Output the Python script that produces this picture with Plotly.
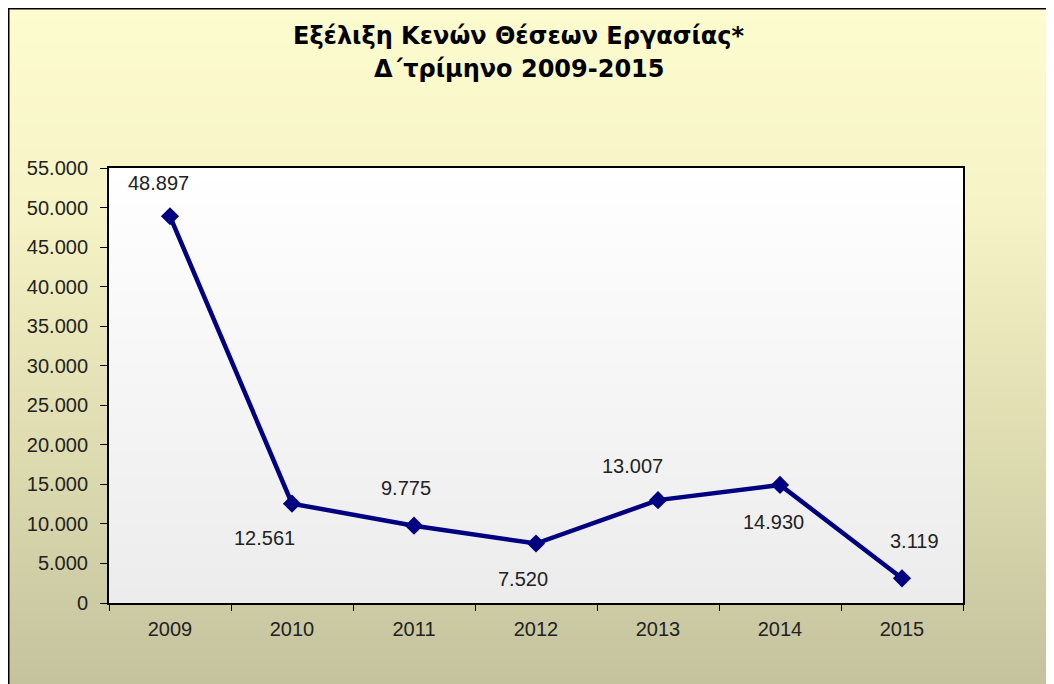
import base64, struct, zlib
import plotly.graph_objects as go

# ---- data ----
years = ["2009", "2010", "2011", "2012", "2013", "2014", "2015"]
vacancies = [48897, 12561, 9775, 7520, 13007, 14930, 3119]
value_labels = ["48.897", "12.561", "9.775", "7.520", "13.007", "14.930", "3.119"]
y_tick_values = [0, 5000, 10000, 15000, 20000, 25000, 30000, 35000, 40000, 45000, 50000, 55000]
y_tick_labels = ["0", "5.000", "10.000", "15.000", "20.000", "25.000", "30.000",
                 "35.000", "40.000", "45.000", "50.000", "55.000"]
title_line1 = "Εξέλιξη Κενών Θέσεων Εργασίας*"
title_line2 = "Δ΄τρίμηνο 2009-2015"

# label offsets (px) relative to each marker: (dx, dy up)
label_offsets = [(-12, 33), (-28, -34), (-8, 38), (-13, -35), (-26, 34), (-7, -37), (12, 37)]

# ---- helpers ----
def gradient_png(stops, n=256):
    rows = b""
    for i in range(n):
        t = i / (n - 1)
        c = stops[-1][1]
        for j in range(len(stops) - 1):
            t0, c0 = stops[j]
            t1, c1 = stops[j + 1]
            if t0 <= t <= t1:
                f = (t - t0) / (t1 - t0) if t1 > t0 else 0
                c = [round(c0[k] + (c1[k] - c0[k]) * f) for k in range(3)]
                break
        rows += b"\x00" + bytes(c)
    def chunk(tag, data):
        return struct.pack(">I", len(data)) + tag + data + struct.pack(">I", zlib.crc32(tag + data) & 0xffffffff)
    png = b"\x89PNG\r\n\x1a\n"
    png += chunk(b"IHDR", struct.pack(">IIBBBBB", 1, n, 8, 2, 0, 0, 0))
    png += chunk(b"IDAT", zlib.compress(rows))
    png += chunk(b"IEND", b"")
    return "data:image/png;base64," + base64.b64encode(png).decode()

W, H = 1046, 676
L, R, T, B = 101, 955, 160, 595
pw, ph = R - L, B - T

def px_x(x):
    return (x - L) / pw

def px_y(y):
    return (B - y) / ph

outer_grad = gradient_png([(0.0, (253, 252, 206)), (0.3, (246, 244, 198)),
                           (0.65, (222, 220, 176)), (1.0, (196, 195, 158))])
plot_grad = gradient_png([(0.0, (255, 255, 255)), (1.0, (236, 236, 236))])

FONT = "Liberation Sans, Arial, sans-serif"
TFONT = "DejaVu Sans, Verdana, sans-serif"

fig = go.Figure()
fig.add_trace(go.Scatter(
    x=years, y=vacancies, mode="lines+markers",
    line=dict(color="#000080", width=4.5),
    marker=dict(symbol="diamond", size=14, color="#000080"),
    hoverinfo="skip", showlegend=False,
))

annotations = []
for i, (v, lab, (dx, dy)) in enumerate(zip(vacancies, value_labels, label_offsets)):
    annotations.append(dict(x=i, y=v, xref="x", yref="y", text=lab, showarrow=False,
                            xshift=dx, yshift=dy,
                            font=dict(family=FONT, size=20, color="#222222")))
annotations.append(dict(x=px_x(511), y=px_y(28), xref="paper", yref="paper",
                        text="<b>" + title_line1 + "</b>", showarrow=False,
                        xanchor="center", yanchor="middle",
                        font=dict(family=TFONT, size=24, color="#000000")))
annotations.append(dict(x=px_x(511), y=px_y(61), xref="paper", yref="paper",
                        text="<b>" + title_line2 + "</b>", showarrow=False,
                        xanchor="center", yanchor="middle",
                        font=dict(family=TFONT, size=24, color="#000000")))

fig.update_layout(
    width=W, height=H,
    margin=dict(l=L, r=W - R, t=T, b=H - B, pad=0),
    paper_bgcolor="#ffffff",
    plot_bgcolor="rgba(0,0,0,0)",
    annotations=annotations,
    images=[
        dict(source=outer_grad, xref="paper", yref="paper",
             x=px_x(0), y=px_y(0), sizex=W / pw, sizey=H / ph,
             xanchor="left", yanchor="top", sizing="stretch", layer="below"),
        dict(source=plot_grad, xref="paper", yref="paper",
             x=0, y=1, sizex=1, sizey=1,
             xanchor="left", yanchor="top", sizing="stretch", layer="below"),
    ],
    shapes=[
        dict(type="rect", xref="paper", yref="paper",
             x0=px_x(0.75), x1=px_x(W + 10), y0=px_y(H + 10), y1=px_y(0.75),
             line=dict(color="#000000", width=1.5), layer="above"),
    ],
    font=dict(family=FONT, size=20, color="#222222"),
)

fig.update_xaxes(
    type="category", range=[-0.5, 6.5], autorange=False,
    showgrid=False, zeroline=False,
    showline=True, linecolor="#000000", linewidth=2, mirror=True,
    ticks="outside", ticklen=6, tickwidth=1, tickcolor="#000000",
    tickson="boundaries", tickangle=0, ticklabelstandoff=7,
    tickfont=dict(family=FONT, size=20, color="#222222"),
    fixedrange=True,
)
fig.update_yaxes(
    range=[0, 55000], autorange=False, showgrid=False, zeroline=False,
    showline=True, linecolor="#000000", linewidth=2, mirror=True,
    ticks="outside", ticklen=7, tickwidth=1, tickcolor="#000000",
    tickvals=y_tick_values, ticktext=y_tick_labels, ticklabelstandoff=8,
    tickfont=dict(family=FONT, size=20, color="#222222"),
    fixedrange=True,
)

fig.write_html("out.html")
